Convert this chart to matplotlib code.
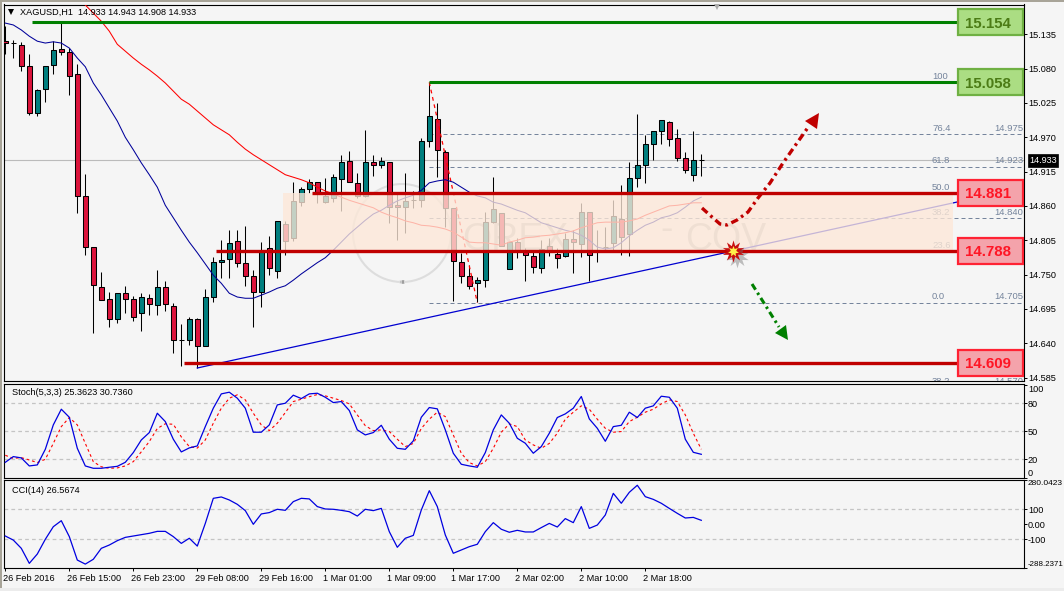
import matplotlib
matplotlib.use("Agg")
import matplotlib.pyplot as plt
import numpy as np
from matplotlib.patches import Rectangle, Polygon, Arc

plt.rcParams['font.family'] = ['Liberation Sans', 'DejaVu Sans']

W, H = 1064, 591
BG = '#F5F5F5'
TEAL = '#007F7F'
CRIMSON = '#DC143C'
NAVY = '#00009A'
SLATE = '#75849C'

# hourly candles: open, high, low, close
opens = [15.124, 15.121, 15.118, 15.084, 15.009, 15.047, 15.086, 15.111, 15.107, 15.071,
         14.876, 14.794, 14.730, 14.711, 14.679, 14.720, 14.711, 14.688, 14.712, 14.701,
         14.730, 14.700, 14.645, 14.645, 14.679, 14.635, 14.714, 14.770, 14.775, 14.804,
         14.769, 14.748, 14.722, 14.793, 14.756, 14.831, 14.809, 14.866, 14.887, 14.898,
         14.866, 14.873, 14.903, 14.932, 14.897, 14.876, 14.930, 14.926, 14.930, 14.861,
         14.858, 14.869, 14.869, 14.964, 14.999, 14.946, 14.857, 14.770, 14.748, 14.736,
         14.741, 14.834, 14.849, 14.759, 14.802, 14.786, 14.780, 14.760, 14.796, 14.783,
         14.780, 14.807, 14.799, 14.850, 14.789, 14.794, 14.801, 14.839, 14.815, 14.905,
         14.926, 14.959, 14.980, 14.994, 14.969, 14.937, 14.910, 14.933]
highs = [15.148, 15.126, 15.123, 15.103, 15.047, 15.084, 15.124, 15.153, 15.113, 15.087,
         14.911, 14.794, 14.754, 14.722, 14.720, 14.732, 14.716, 14.720, 14.719, 14.757,
         14.740, 14.704, 14.671, 14.682, 14.680, 14.727, 14.778, 14.805, 14.821, 14.821,
         14.828, 14.757, 14.802, 14.812, 14.836, 14.836, 14.898, 14.890, 14.903, 14.898,
         14.905, 14.911, 14.942, 14.948, 14.913, 14.982, 14.942, 14.938, 14.930, 14.881,
         14.913, 14.884, 14.969, 15.057, 15.025, 14.950, 14.857, 14.785, 14.765, 14.746,
         14.850, 14.906, 14.849, 14.802, 14.809, 14.793, 14.789, 14.805, 14.809, 14.793,
         14.817, 14.821, 14.865, 14.850, 14.821, 14.826, 14.869, 14.894, 14.930, 15.007,
         14.974, 14.980, 14.998, 14.996, 14.983, 14.946, 14.980, 14.943]
lows = [15.103, 15.097, 15.076, 15.006, 15.004, 15.027, 15.071, 15.102, 15.038, 14.849,
        14.781, 14.656, 14.709, 14.666, 14.672, 14.688, 14.676, 14.660, 14.685, 14.685,
        14.692, 14.624, 14.603, 14.637, 14.600, 14.635, 14.706, 14.744, 14.744, 14.762,
        14.732, 14.666, 14.698, 14.749, 14.744, 14.781, 14.804, 14.860, 14.881, 14.865,
        14.865, 14.866, 14.852, 14.898, 14.873, 14.874, 14.908, 14.921, 14.833, 14.805,
        14.817, 14.857, 14.858, 14.954, 14.906, 14.826, 14.708, 14.736, 14.727, 14.706,
        14.730, 14.833, 14.796, 14.759, 14.777, 14.740, 14.752, 14.752, 14.780, 14.760,
        14.778, 14.752, 14.778, 14.740, 14.770, 14.789, 14.789, 14.781, 14.780, 14.890,
        14.897, 14.934, 14.959, 14.956, 14.932, 14.913, 14.900, 14.908]
closes = [15.121, 15.121, 15.084, 15.009, 15.046, 15.084, 15.110, 15.107, 15.068, 14.876,
          14.794, 14.733, 14.709, 14.679, 14.720, 14.711, 14.682, 14.714, 14.703, 14.730,
          14.703, 14.645, 14.645, 14.679, 14.635, 14.714, 14.770, 14.773, 14.801, 14.769,
          14.748, 14.722, 14.786, 14.760, 14.836, 14.804, 14.868, 14.887, 14.898, 14.881,
          14.876, 14.906, 14.930, 14.898, 14.876, 14.930, 14.926, 14.932, 14.858, 14.858,
          14.868, 14.869, 14.964, 15.004, 14.950, 14.857, 14.772, 14.748, 14.732, 14.741,
          14.834, 14.855, 14.796, 14.802, 14.789, 14.781, 14.762, 14.791, 14.786, 14.777,
          14.807, 14.802, 14.850, 14.781, 14.789, 14.794, 14.844, 14.810, 14.905, 14.926,
          14.959, 14.980, 14.998, 14.967, 14.937, 14.918, 14.933, 14.933]

ma_fast = [15.153, 15.150, 15.142, 15.132, 15.124, 15.121, 15.123, 15.121, 15.113, 15.097,
           15.083, 15.057, 15.038, 15.017, 14.996, 14.970, 14.950, 14.929, 14.910, 14.890,
           14.861, 14.841, 14.821, 14.802, 14.785, 14.767, 14.749, 14.736, 14.720, 14.714,
           14.712, 14.712, 14.717, 14.722, 14.728, 14.732, 14.741, 14.751, 14.760, 14.769,
           14.777, 14.789, 14.802, 14.815, 14.826, 14.837, 14.847, 14.853, 14.861, 14.868,
           14.873, 14.877, 14.885, 14.897, 14.900, 14.902, 14.898, 14.890, 14.882, 14.876,
           14.873, 14.866, 14.863, 14.858, 14.853, 14.849, 14.841, 14.833, 14.829, 14.825,
           14.821, 14.818, 14.813, 14.805, 14.794, 14.791, 14.793, 14.801, 14.812, 14.821,
           14.829, 14.834, 14.841, 14.844, 14.849, 14.858, 14.868, 14.874]
# slow average enters the visible range at bar 9
ma_slow = [15.193, 15.182, 15.169, 15.156, 15.140, 15.119, 15.108, 15.097, 15.087, 15.078,
           15.068, 15.057, 15.044, 15.031, 15.023, 15.012, 15.001, 14.990, 14.982, 14.974,
           14.962, 14.951, 14.942, 14.934, 14.926, 14.918, 14.910, 14.906, 14.902, 14.897,
           14.890, 14.884, 14.879, 14.874, 14.869, 14.865, 14.861, 14.857, 14.850, 14.845,
           14.841, 14.836, 14.833, 14.829, 14.828, 14.826, 14.823, 14.818, 14.810, 14.802,
           14.801, 14.801, 14.799, 14.797, 14.802, 14.805, 14.809, 14.810, 14.812, 14.813,
           14.815, 14.817, 14.820, 14.825, 14.829, 14.833, 14.834, 14.834, 14.834, 14.836,
           14.839, 14.845, 14.850, 14.855, 14.860, 14.861, 14.863, 14.865, 14.865]

stoch_main = [16.8, 22.9, 21.5, 12.9, 14.0, 30.7, 56.8, 73.6, 65.0, 31.8, 12.9, 10.4, 10.4, 11.5, 12.5,
              16.8, 27.2, 40.7, 48.6, 69.3, 60.4, 41.5, 27.9, 32.2, 34.3, 55.0, 74.7, 90.0, 91.8, 85.4,
              74.7, 49.0, 49.0, 56.8, 78.2, 80.0, 88.6, 85.0, 90.0, 90.7, 86.4, 80.7, 81.8, 72.2, 51.5,
              46.1, 48.6, 56.4, 41.5, 31.8, 30.7, 39.7, 65.0, 75.4, 74.0, 51.5, 26.5, 14.7, 12.9, 11.5,
              27.2, 51.5, 67.5, 58.6, 42.5, 37.2, 26.5, 33.6, 47.9, 64.7, 68.6, 74.7, 87.2, 63.2, 53.2,
              39.3, 55.0, 56.4, 70.4, 64.7, 74.7, 77.2, 87.5, 86.4, 74.7, 41.5, 27.5, 25.36]
stoch_signal = [24.3, 21.0, 21.8, 19.3, 16.5, 20.0, 37.0, 55.0, 64.7, 56.8, 37.0, 17.5, 12.0, 10.4, 10.8,
                12.9, 17.5, 28.0, 39.0, 53.0, 58.0, 57.5, 44.0, 33.6, 32.0, 40.7, 58.6, 74.7, 85.4, 89.0,
                83.6, 69.3, 56.8, 50.7, 58.6, 70.0, 81.8, 84.3, 87.0, 89.3, 87.9, 85.4, 82.9, 79.3, 67.5,
                56.0, 50.7, 51.5, 49.7, 41.5, 33.6, 37.0, 53.0, 63.0, 70.4, 65.7, 46.0, 26.5, 16.5, 12.9,
                17.5, 31.8, 49.0, 57.9, 55.0, 40.7, 35.4, 31.8, 37.0, 47.9, 62.9, 70.4, 77.2, 73.6, 62.9,
                53.2, 49.0, 49.7, 60.4, 65.0, 70.4, 73.6, 79.3, 83.6, 81.8, 67.5, 47.9, 30.74]
cci_values = [-78, -105, -160, -260, -198, -100, -16, 24, -82, -238, -265, -233, -160, -138, -109,
              -87, -78, -69, -60, -47, -47, -82, -127, -93, -145, 6, 173, 182, 162, 133,
              91, 0, 69, 78, 100, 93, 151, 173, 169, 118, 102, 100, 93, 84, 55,
              100, 91, 106, -49, -153, -93, -74, 95, 224, 118, -71, -193, -171, -149, -133,
              -49, 11, -33, -53, -40, -51, -51, -22, 6, -18, 38, 11, 118, -27, -5,
              62, 206, 140, 213, 260, 184, 166, 140, 106, 73, 42, 46, 26.57]

green_levels = [15.154, 15.058]
red_levels = [14.881, 14.788, 14.609]
green_starts = [3.3, 53.0]
red_starts = [38.3, 26.3, 22.3]

fibo_names = ['100', '76.4', '61.8', '50.0', '38.2', '23.6', '0.0', '38.2']
fibo_prices = [15.058, 14.975, 14.923, 14.881, 14.840, 14.788, 14.705, 14.570]
fibo_price_shown = [False, True, True, False, True, False, True, True]

price_ticks = [15.135, 15.080, 15.025, 14.970, 14.915, 14.860, 14.805, 14.750, 14.695, 14.640, 14.585]
time_labels = ['26 Feb 2016', '26 Feb 15:00', '26 Feb 23:00', '29 Feb 08:00', '29 Feb 16:00', '1 Mar 01:00',
               '1 Mar 09:00', '1 Mar 17:00', '2 Mar 02:00', '2 Mar 10:00', '2 Mar 18:00']
last_price = 14.933


# screen helpers, used for the hand drawn annotations
def px(x):
    return (np.asarray(x, dtype=float) - 5.3) / 8.0


def py(y):
    return 15.190 - 0.0016026 * np.asarray(y, dtype=float)


def add_panel(top, bottom):
    a = fig.add_axes([4 / W, 1 - bottom / H, 1019.5 / W, (bottom - top) / H])
    a.set_facecolor(BG)
    a.set_xlim(px(4), px(1023.5))
    for s in a.spines.values():
        s.set_linewidth(0.8)
    a.yaxis.tick_right()
    a.tick_params(axis='y', length=2.2, width=0.7, pad=1, labelsize=TICK_FS)
    a.set_xticks([])
    return a


TICK_FS = 6.6
fig = plt.figure(figsize=(W / 100, H / 100), dpi=100, facecolor=BG)

# window edges
fig.add_artist(Rectangle((0, 1 - 2 / H), 1, 2 / H, transform=fig.transFigure, color='#A8A498', lw=0))
fig.add_artist(Rectangle((0, 0), 2 / W, 1, transform=fig.transFigure, color='#A8A498', lw=0))
fig.add_artist(Rectangle((0, 0), 1, 3 / H, transform=fig.transFigure, color='#ECECEC', lw=0))

ax = add_panel(4.5, 381)
ax.set_ylim(py(381), py(4.5))
bars = np.arange(len(opens))

# watermark logo under the candles
logo_center = (px(402), py(233))
logo_w, logo_h = 98 / 8, 98 * 0.0016026
ax.add_patch(Arc(logo_center, logo_w, logo_h, theta1=250, theta2=345, color='#9E9E9E', lw=2.6, zorder=1))
ax.add_patch(Arc(logo_center, logo_w, logo_h, theta1=195, theta2=250, color='#C4C4C4', lw=2.0, zorder=1))
ax.add_patch(Arc(logo_center, logo_w, logo_h, theta1=345, theta2=195, color='#DDDDDD', lw=1.5, zorder=1))
ax.text(px(462), py(250), 'OREX', fontsize=27, color='#C2C2C2', va='baseline', ha='left', zorder=1)
ax.text(px(660), py(240), '-', fontsize=27, color='#C2C2C2', va='baseline', ha='left', zorder=1)
ax.text(px(685), py(250), 'COV', fontsize=27, color='#C2C2C2', va='baseline', ha='left', zorder=1)

ax.axhline(last_price, color='#BBBBBB', lw=0.8, zorder=2)

# fibonacci retracement
for name, price, shown in zip(fibo_names, fibo_prices, fibo_price_shown):
    ax.plot([53, px(1023.5)], [price, price], color=SLATE, lw=0.72, dashes=(4, 3), zorder=2)
    ax.text(px(932), price + 0.002, name, color=SLATE, fontsize=TICK_FS + 0.2, va='bottom', ha='left', zorder=2, clip_on=True)
    if shown:
        ax.text(px(994), price + 0.002, f'{price:.3f}', color=SLATE, fontsize=TICK_FS + 0.2, va='bottom', ha='left', zorder=2, clip_on=True)
ax.plot([53, 59], [15.058, 14.705], color='#FF0000', lw=0.9, dashes=(3, 3), zorder=5)

# candles
for i, o, h, l, c in zip(bars, opens, highs, lows, closes):
    ax.vlines(i, l, h, color='black', lw=0.75, zorder=3)
    col = TEAL if c > o else CRIMSON
    ax.add_patch(Rectangle((i - 0.3, min(o, c)), 0.6, abs(c - o), facecolor=col, edgecolor='black', lw=0.75, zorder=4))

ax.plot(bars, ma_fast, color=NAVY, lw=0.75, zorder=5)
ax.plot(bars[-len(ma_slow):], ma_slow, color='#FF0000', lw=0.75, zorder=5)

# rising trend line
ax.plot([24, 119], [py(368), py(202)], color='#0000D0', lw=0.9, zorder=5)

# shaded zone between the two red levels
ax.add_patch(Rectangle((px(283), 14.788), px(953) - px(283), 14.881 - 14.788, facecolor='#FDE8D8', edgecolor='none', alpha=0.78, zorder=6))

for price, start in zip(green_levels, green_starts):
    ax.plot([start, 119], [price, price], color='#008000', lw=2.2, solid_capstyle='butt', zorder=7)
for price, start in zip(red_levels, red_starts):
    ax.plot([start, 119], [price, price], color='#C00000', lw=2.4, solid_capstyle='butt', zorder=7)

# value boxes on the right
for price in green_levels:
    ax.add_patch(Rectangle((px(958), price - 13 * 0.0016026), px(1022.5) - px(958), 26 * 0.0016026,
                           facecolor='#ABDD83', edgecolor='#6FB043', lw=1.6, zorder=8))
    ax.text(px(988), price, f'{price:.3f}', color='#4C7C16', fontsize=10.8, fontweight='bold',
            ha='center', va='center_baseline', zorder=9)
for price in red_levels:
    ax.add_patch(Rectangle((px(958), price - 13 * 0.0016026), px(1022.5) - px(958), 26 * 0.0016026,
                           facecolor='#F4A3AB', edgecolor='#FF2233', lw=1.6, zorder=8))
    ax.text(px(988), price, f'{price:.3f}', color='#FF1525', fontsize=10.8, fontweight='bold',
            ha='center', va='center_baseline', zorder=9)

# forecast arrows
up_x = [702, 712, 720, 727, 737, 748, 758, 770, 783, 797, 809]
up_y = [208, 217, 224, 225, 220, 212, 198, 183, 163, 143, 126]
ax.plot(px(up_x), py(up_y), color='#C00000', lw=2.4, ls=(0, (2.2, 1.2, 0.8, 1.2)), zorder=9)
ax.add_patch(Polygon(np.column_stack([px([819, 805, 817]), py([113, 121, 129])]), color='#C00000', lw=0, zorder=9))
ax.plot(px([752, 779]), py([284, 327]), color='#008000', lw=2.2, ls=(0, (2.2, 1.2, 0.8, 1.2)), zorder=9)
ax.add_patch(Polygon(np.column_stack([px([788, 775, 786]), py([340, 333, 325])]), color='#008000', lw=0, zorder=9))

# burst where the trend line meets support
ax.plot(px(737), py(256), marker=(10, 1, 0), ms=17, color='#777777', alpha=0.45, mew=0, zorder=9)
ax.plot(px(733), py(251), marker=(10, 1, 0), ms=16, color='#C80F0F', mew=0, zorder=10)
ax.plot(px(733), py(251), marker=(7, 1, 0), ms=8, color='#FFF04A', mew=0, zorder=11)

ax.plot(px(717), py(7), marker='v', ms=5, color='#ABABAB', mew=0, clip_on=False, zorder=11)

ax.set_yticks(price_ticks)
ax.set_yticklabels([f'{t:.3f}' for t in price_ticks])

ax.plot(px(11), py(12.5), marker='v', ms=5, color='black', mew=0, zorder=12)
ax.text(px(20), py(12.5), 'XAGUSD,H1  14.933 14.943 14.908 14.933', fontsize=TICK_FS, va='center', ha='left', zorder=12)

# current price tag
ax.text(px(1043), last_price, f'{last_price:.3f}', color='white', fontsize=TICK_FS, ha='center', va='center',
        clip_on=False, zorder=12, bbox=dict(boxstyle='square,pad=0.18', facecolor='black', edgecolor='black', lw=0.5))

# stochastic panel
ax2 = add_panel(383.7, 478)
ax2.set_ylim(0, 100.9)
for lev in [20, 50, 80]:
    ax2.axhline(lev, color='#C4C4C4', lw=0.9, dashes=(3, 2.5), zorder=1)
ax2.plot(bars, stoch_signal, color='#FF0000', lw=0.8, dashes=(2.5, 2.5), zorder=2)
ax2.plot(bars, stoch_main, color='#0000E0', lw=0.9, zorder=3)
ax2.set_yticks([100, 80, 50, 20, 0])
ax2.set_yticklabels(['100', '80', '50', '20', '0'])
ax2.get_yticklabels()[0].set_va('top')
ax2.get_yticklabels()[-1].set_va('bottom')
ax2.text(8 / 1019.5, 0.91, 'Stoch(5,3,3) 25.3623 30.7360', transform=ax2.transAxes, fontsize=TICK_FS, va='center')

# CCI panel
ax3 = add_panel(480, 568)
ax3.set_ylim(-291, 295)
for lev in [100, -100]:
    ax3.axhline(lev, color='#C4C4C4', lw=0.9, dashes=(3, 2.5), zorder=1)
ax3.plot(bars, cci_values, color='#0000E0', lw=0.9, zorder=3)
ax3.set_yticks([295, 100, 0, -100, -291])
ax3.set_yticklabels(['280.0423', '100', '0.00', '-100', '-288.2371'])
ax3.get_yticklabels()[0].set_va('top')
ax3.get_yticklabels()[0].set_fontsize(6.0)
ax3.get_yticklabels()[-1].set_va('bottom')
ax3.get_yticklabels()[-1].set_fontsize(5.7)
ax3.text(8 / 1019.5, 0.885, 'CCI(14) 26.5674', transform=ax3.transAxes, fontsize=TICK_FS, va='center')

tick_bars = bars[::8]
ax3.set_xticks(tick_bars)
ax3.set_xticklabels([])
ax3.tick_params(axis='x', length=2.2, width=0.7)
for b, lab in zip(tick_bars, time_labels):
    ax3.annotate(lab, (b, 0), xycoords=('data', 'axes fraction'), xytext=(-1.5, -4.5),
                 textcoords='offset points', fontsize=TICK_FS, va='top', ha='left', annotation_clip=False)

fig.savefig('out.png', dpi=100, facecolor=fig.get_facecolor())
